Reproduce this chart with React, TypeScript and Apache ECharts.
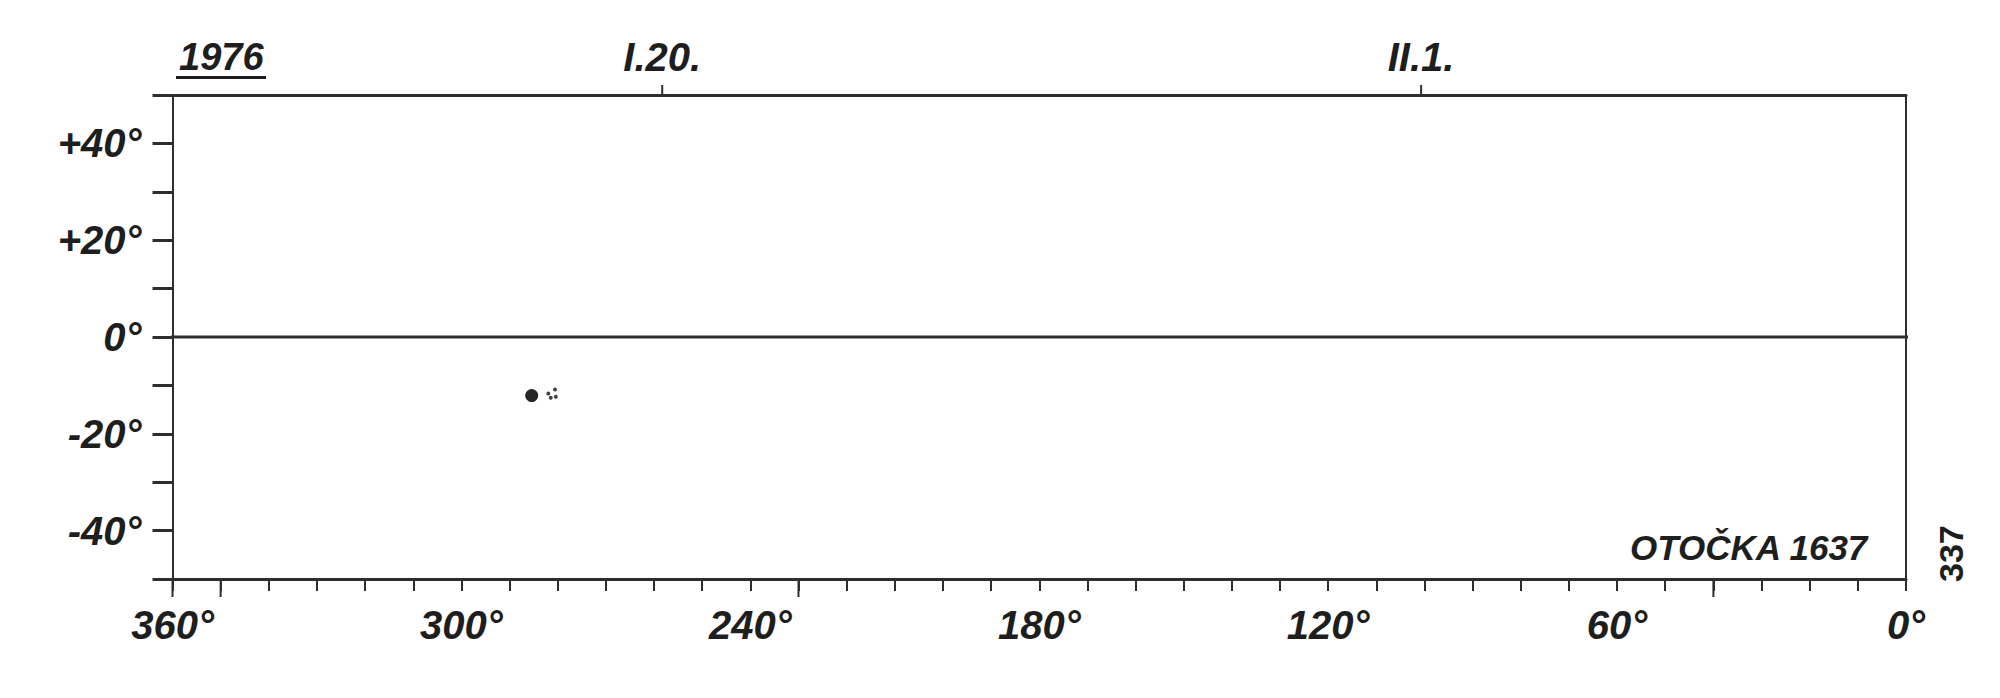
import React, { useEffect, useRef } from "react";
import * as echarts from "echarts";

// ---- data ----
const lonMin = 0;
const lonMax = 360;
const decMin = -50;
const decMax = 50;
const lonTickStep = 10;
const decTickStep = 10;
const lonLabelValues = [0, 60, 120, 180, 240, 300, 360];
const decLabelValues = [-40, -20, 0, 20, 40];
const longTickLon = [360, 350, 230, 40];
const dateLabels = ["I.20.", "II.1."];
const dateLon = [258.3, 100.7];
const equatorLon = [364.2, -4.2];
const equatorDec = [0, 0];
const objectLon = [285.4];
const objectDec = [-12.1];
const fragmentLon = [281.95, 280.56, 280.4, 281.45];
const fragmentDec = [-11.66, -10.84, -12.35, -12.55];
const yearText = "1976";
const plateText = "OTOČKA 1637";
const sideText = "337";

const FONT = "'Liberation Sans Narrow', 'Liberation Sans', Arial, sans-serif";
const INK = "#1e1e1e";
const LINE = "#2e2e2e";

export default function App() {
  const ref = useRef<HTMLDivElement>(null);
  useEffect(() => {
    if (!ref.current) return;
    const chart = echarts.init(ref.current, undefined, { renderer: "svg" });
    const option: any = {
      animation: false,
      backgroundColor: "#fff",
      grid: { left: 172.5, right: 94, top: 95, bottom: 119, containLabel: false },
      xAxis: [
        {
          type: "value",
          position: "bottom",
          min: lonMin,
          max: lonMax,
          interval: lonTickStep,
          inverse: true,
          axisLine: { show: true, onZero: false, lineStyle: { color: LINE, width: 3 } },
          axisTick: { show: true, inside: false, length: 12, lineStyle: { color: LINE, width: 2 } },
          axisLabel: {
            show: true,
            margin: 26,
            fontFamily: FONT,
            fontStyle: "italic",
            fontWeight: "bold",
            fontSize: 40,
            color: INK,
            formatter: (v: number) => (lonLabelValues.indexOf(v) >= 0 ? v + "°" : ""),
          },
          splitLine: { show: false },
        },
        {
          type: "value",
          position: "top",
          min: lonMin,
          max: lonMax,
          inverse: true,
          axisLine: { show: true, onZero: false, lineStyle: { color: LINE, width: 3 } },
          axisTick: { show: false },
          axisLabel: { show: false },
          splitLine: { show: false },
        },
      ],
      yAxis: [
        {
          type: "value",
          position: "left",
          min: decMin,
          max: decMax,
          interval: decTickStep,
          axisLine: { show: true, onZero: false, lineStyle: { color: LINE, width: 2 } },
          axisTick: { show: true, inside: false, length: 20, lineStyle: { color: LINE, width: 3 } },
          axisLabel: {
            show: true,
            margin: 31,
            fontFamily: FONT,
            fontStyle: "italic",
            fontWeight: "bold",
            fontSize: 40,
            color: INK,
            formatter: (v: number) =>
              decLabelValues.indexOf(v) >= 0 ? (v > 0 ? "+" + v + "°" : v + "°") : "",
          },
          splitLine: { show: false },
        },
        {
          type: "value",
          position: "right",
          min: decMin,
          max: decMax,
          axisLine: { show: true, onZero: false, lineStyle: { color: LINE, width: 2 } },
          axisTick: { show: false },
          axisLabel: { show: false },
          splitLine: { show: false },
        },
      ],
      series: [
        {
          name: "equator",
          type: "line",
          clip: false,
          symbol: "none",
          lineStyle: { color: LINE, width: 3, opacity: 1 },
          data: equatorLon.map((l, i) => [l, equatorDec[i]]),
        },
        {
          name: "long ticks",
          type: "scatter",
          clip: false,
          symbol: "rect",
          symbolSize: [2, 18],
          symbolOffset: [0, 9],
          itemStyle: { color: LINE, opacity: 1 },
          data: longTickLon.map((l) => [l, decMin]),
        },
        {
          name: "dates",
          type: "scatter",
          clip: false,
          symbol: "rect",
          symbolSize: [2, 10],
          symbolOffset: [0, -5],
          itemStyle: { color: LINE, opacity: 1 },
          label: {
            show: true,
            position: "top",
            distance: 8,
            fontFamily: FONT,
            fontStyle: "italic",
            fontWeight: "bold",
            fontSize: 40,
            color: INK,
            formatter: (p: any) => p.name,
          },
          data: dateLon.map((l, i) => ({ name: dateLabels[i], value: [l, decMax] })),
        },
        {
          name: "object",
          type: "scatter",
          symbol: "circle",
          symbolSize: 13,
          itemStyle: { color: "#262626", opacity: 1 },
          data: objectLon.map((l, i) => [l, objectDec[i]]),
        },
        {
          name: "fragments",
          type: "scatter",
          symbol: "circle",
          symbolSize: 4,
          itemStyle: { color: "#444", opacity: 1 },
          data: fragmentLon.map((l, i) => [l, fragmentDec[i]]),
        },
      ],
      graphic: [
        {
          type: "text",
          left: 179,
          top: 38,
          style: { text: yearText, font: `italic bold 38px ${FONT}`, fill: INK },
        },
        {
          type: "rect",
          shape: { x: 176, y: 76, width: 90, height: 3 },
          style: { fill: INK },
        },
        {
          type: "text",
          left: 1630,
          top: 530,
          style: { text: plateText, font: `italic bold 35px ${FONT}`, fill: INK },
        },
        {
          type: "text",
          x: 1934,
          y: 582,
          rotation: Math.PI / 2,
          style: { text: sideText, font: `bold 34px ${FONT}`, fill: INK, textAlign: "left", textVerticalAlign: "top" },
        },
      ],
    };
    chart.setOption(option);
    return () => chart.dispose();
  }, []);
  return (
    <div
      ref={ref}
      style={{ position: "fixed", left: 0, top: 0, width: 2000, height: 698, background: "#fff" }}
    />
  );
}
